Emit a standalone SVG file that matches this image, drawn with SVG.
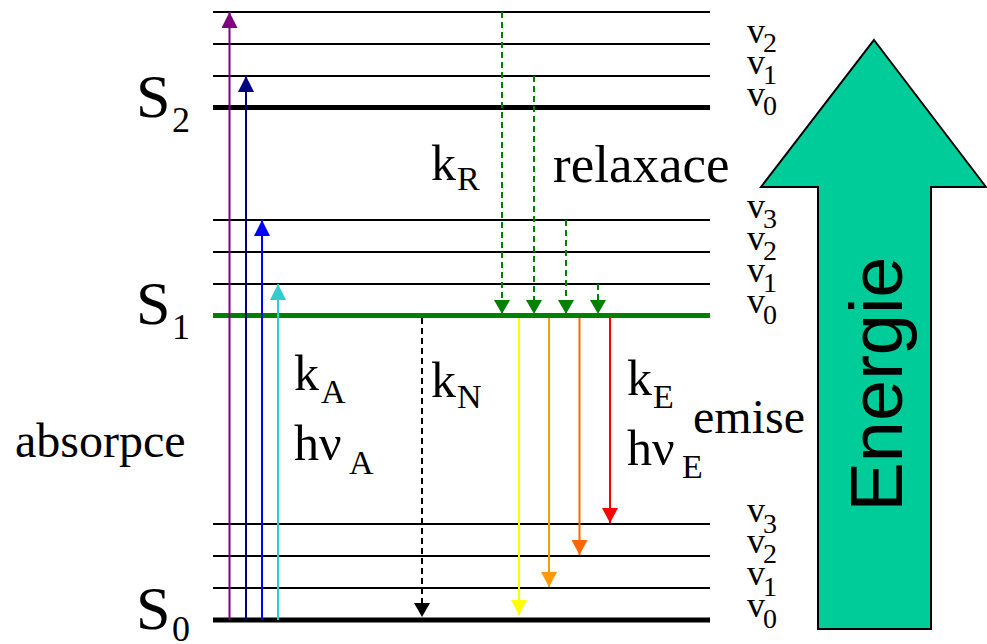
<svg xmlns="http://www.w3.org/2000/svg" width="987" height="644" viewBox="0 0 987 644">
<style>
  .lvl { stroke: #000; stroke-width: 2; }
  .thick { stroke: #000; stroke-width: 5; }
  .green { stroke: #008000; stroke-width: 5; }
  .big { font-size: 62px; }
  .bsub { font-size: 36px; }
  .v { font-size: 36px; }
  .vs { font-size: 28px; }
  .lab { font-size: 50px; }
  .sub { font-size: 34px; }
  .arr { stroke-width: 2; fill: none; }
  .dash { stroke-dasharray: 6 4; }
</style>
<defs>
  <marker id="m-purple" viewBox="0 0 16 16" refX="16" refY="8" markerWidth="16" markerHeight="16" markerUnits="userSpaceOnUse" orient="auto"><path d="M0,0 L16,8 L0,16 z" fill="#800080"/></marker>
  <marker id="m-navy" viewBox="0 0 16 16" refX="16" refY="8" markerWidth="16" markerHeight="16" markerUnits="userSpaceOnUse" orient="auto"><path d="M0,0 L16,8 L0,16 z" fill="#000080"/></marker>
  <marker id="m-blue" viewBox="0 0 16 16" refX="16" refY="8" markerWidth="16" markerHeight="16" markerUnits="userSpaceOnUse" orient="auto"><path d="M0,0 L16,8 L0,16 z" fill="#0000FF"/></marker>
  <marker id="m-cyan" viewBox="0 0 16 16" refX="16" refY="8" markerWidth="16" markerHeight="16" markerUnits="userSpaceOnUse" orient="auto"><path d="M0,0 L16,8 L0,16 z" fill="#33CCCC"/></marker>
  <marker id="m-green" viewBox="0 0 16 16" refX="16" refY="8" markerWidth="14" markerHeight="16" markerUnits="userSpaceOnUse" orient="auto" preserveAspectRatio="none"><path d="M0,0 L16,8 L0,16 z" fill="#008000"/></marker>
  <marker id="m-black" viewBox="0 0 16 16" refX="16" refY="8" markerWidth="14" markerHeight="16" markerUnits="userSpaceOnUse" orient="auto" preserveAspectRatio="none"><path d="M0,0 L16,8 L0,16 z" fill="#000"/></marker>
  <marker id="m-yellow" viewBox="0 0 16 16" refX="16" refY="8" markerWidth="15" markerHeight="16" markerUnits="userSpaceOnUse" orient="auto" preserveAspectRatio="none"><path d="M0,0 L16,8 L0,16 z" fill="#FFFF00"/></marker>
  <marker id="m-orange" viewBox="0 0 16 16" refX="16" refY="8" markerWidth="15" markerHeight="16" markerUnits="userSpaceOnUse" orient="auto" preserveAspectRatio="none"><path d="M0,0 L16,8 L0,16 z" fill="#FF9900"/></marker>
  <marker id="m-dorange" viewBox="0 0 16 16" refX="16" refY="8" markerWidth="15" markerHeight="16" markerUnits="userSpaceOnUse" orient="auto" preserveAspectRatio="none"><path d="M0,0 L16,8 L0,16 z" fill="#FF6600"/></marker>
  <marker id="m-red" viewBox="0 0 16 16" refX="16" refY="8" markerWidth="15" markerHeight="16" markerUnits="userSpaceOnUse" orient="auto" preserveAspectRatio="none"><path d="M0,0 L16,8 L0,16 z" fill="#FF0000"/></marker>
</defs>
<rect width="987" height="644" fill="#fff"/>

<g id="energy-arrow">
  <polygon points="874,40 986,187 931,187 931,629 818,629 818,187 761,187" fill="#00CC99" stroke="#000" stroke-width="2"/>
  <text transform="translate(902,384) rotate(-90)" text-anchor="middle" font-family="Liberation Sans, Arial, sans-serif" font-size="74" fill="#000">Energie</text>
</g>

<g id="S2" font-family="Liberation Serif, Times New Roman, serif" fill="#000">
  <line class="lvl" x1="213" y1="12" x2="710" y2="12"/>
  <line class="lvl" x1="213" y1="44" x2="710" y2="44"/>
  <line class="lvl" x1="213" y1="76" x2="710" y2="76"/>
  <line class="thick" x1="213" y1="107.5" x2="710" y2="107.5"/>
  <text class="big" x="136" y="117">S<tspan class="bsub" x="172" y="132">2</tspan></text>
  <text class="v" x="747" y="43">v<tspan class="vs" x="763" y="52">2</tspan></text>
  <text class="v" x="747" y="74">v<tspan class="vs" x="763" y="84">1</tspan></text>
  <text class="v" x="747" y="106">v<tspan class="vs" x="763" y="115">0</tspan></text>
</g>

<g id="S1" font-family="Liberation Serif, Times New Roman, serif" fill="#000">
  <line class="lvl" x1="213" y1="220" x2="710" y2="220"/>
  <line class="lvl" x1="213" y1="252" x2="710" y2="252"/>
  <line class="lvl" x1="213" y1="284" x2="710" y2="284"/>
  <line class="green" x1="213" y1="315.5" x2="710" y2="315.5"/>
  <text class="big" x="136" y="324">S<tspan class="bsub" x="172" y="339">1</tspan></text>
  <text class="v" x="747" y="218">v<tspan class="vs" x="763" y="228">3</tspan></text>
  <text class="v" x="747" y="250">v<tspan class="vs" x="763" y="260">2</tspan></text>
  <text class="v" x="747" y="282">v<tspan class="vs" x="763" y="292">1</tspan></text>
  <text class="v" x="747" y="313">v<tspan class="vs" x="763" y="324">0</tspan></text>
</g>

<g id="S0" font-family="Liberation Serif, Times New Roman, serif" fill="#000">
  <line class="lvl" x1="213" y1="524" x2="710" y2="524"/>
  <line class="lvl" x1="213" y1="556" x2="710" y2="556"/>
  <line class="lvl" x1="213" y1="588" x2="710" y2="588"/>
  <line class="thick" x1="213" y1="620" x2="710" y2="620"/>
  <text class="big" x="136" y="629">S<tspan class="bsub" x="172" y="641">0</tspan></text>
  <text class="v" x="747" y="522">v<tspan class="vs" x="763" y="533">3</tspan></text>
  <text class="v" x="747" y="553">v<tspan class="vs" x="763" y="563">2</tspan></text>
  <text class="v" x="747" y="585">v<tspan class="vs" x="763" y="596">1</tspan></text>
  <text class="v" x="747" y="617">v<tspan class="vs" x="763" y="628">0</tspan></text>
</g>

<g id="connectors">
  <line class="arr" stroke="#800080" x1="229.5" y1="620" x2="229.5" y2="12" marker-end="url(#m-purple)"/>
  <line class="arr" stroke="#000080" x1="246" y1="620" x2="246" y2="76" marker-end="url(#m-navy)"/>
  <line class="arr" stroke="#0000FF" x1="262" y1="620" x2="262" y2="220" marker-end="url(#m-blue)"/>
  <line class="arr" stroke="#33CCCC" x1="278" y1="620" x2="278" y2="284" marker-end="url(#m-cyan)"/>

  <line class="arr dash" stroke="#008000" x1="502" y1="12" x2="502" y2="314" marker-end="url(#m-green)"/>
  <line class="arr dash" stroke="#008000" x1="534" y1="76" x2="534" y2="314" marker-end="url(#m-green)"/>
  <line class="arr dash" stroke="#008000" x1="566" y1="220" x2="566" y2="314" marker-end="url(#m-green)"/>
  <line class="arr dash" stroke="#008000" x1="598" y1="284" x2="598" y2="314" marker-end="url(#m-green)"/>

  <line class="arr dash" stroke="#000" x1="422" y1="318" x2="422" y2="617" marker-end="url(#m-black)"/>

  <line class="arr" stroke="#FFFF00" x1="519" y1="318" x2="519" y2="615" marker-end="url(#m-yellow)"/>
  <line class="arr" stroke="#FF9900" x1="549" y1="318" x2="549" y2="587" marker-end="url(#m-orange)"/>
  <line class="arr" stroke="#FF6600" x1="579.5" y1="318" x2="579.5" y2="555" marker-end="url(#m-dorange)"/>
  <line class="arr" stroke="#FF0000" x1="610" y1="318" x2="610" y2="523" marker-end="url(#m-red)"/>
</g>

<g id="labels" font-family="Liberation Serif, Times New Roman, serif" fill="#000">
  <text class="lab" x="431" y="180">k<tspan class="sub" x="457" y="190">R</tspan></text>
  <text x="553" y="182" font-size="53">relaxace</text>
  <text class="lab" x="294" y="390">k<tspan class="sub" x="321" y="403">A</tspan></text>
  <text class="lab" x="294" y="460">hν<tspan class="sub" x="349" y="474">A</tspan></text>
  <text class="lab" x="431" y="397">k<tspan class="sub" x="457" y="408">N</tspan></text>
  <text class="lab" x="627" y="395">k<tspan class="sub" x="653" y="408">E</tspan></text>
  <text class="lab" x="627" y="465">hν<tspan class="sub" x="682" y="478">E</tspan></text>
  <text x="693" y="433" font-size="48">emise</text>
  <text x="15" y="457" font-size="48">absorpce</text>
</g>
</svg>
